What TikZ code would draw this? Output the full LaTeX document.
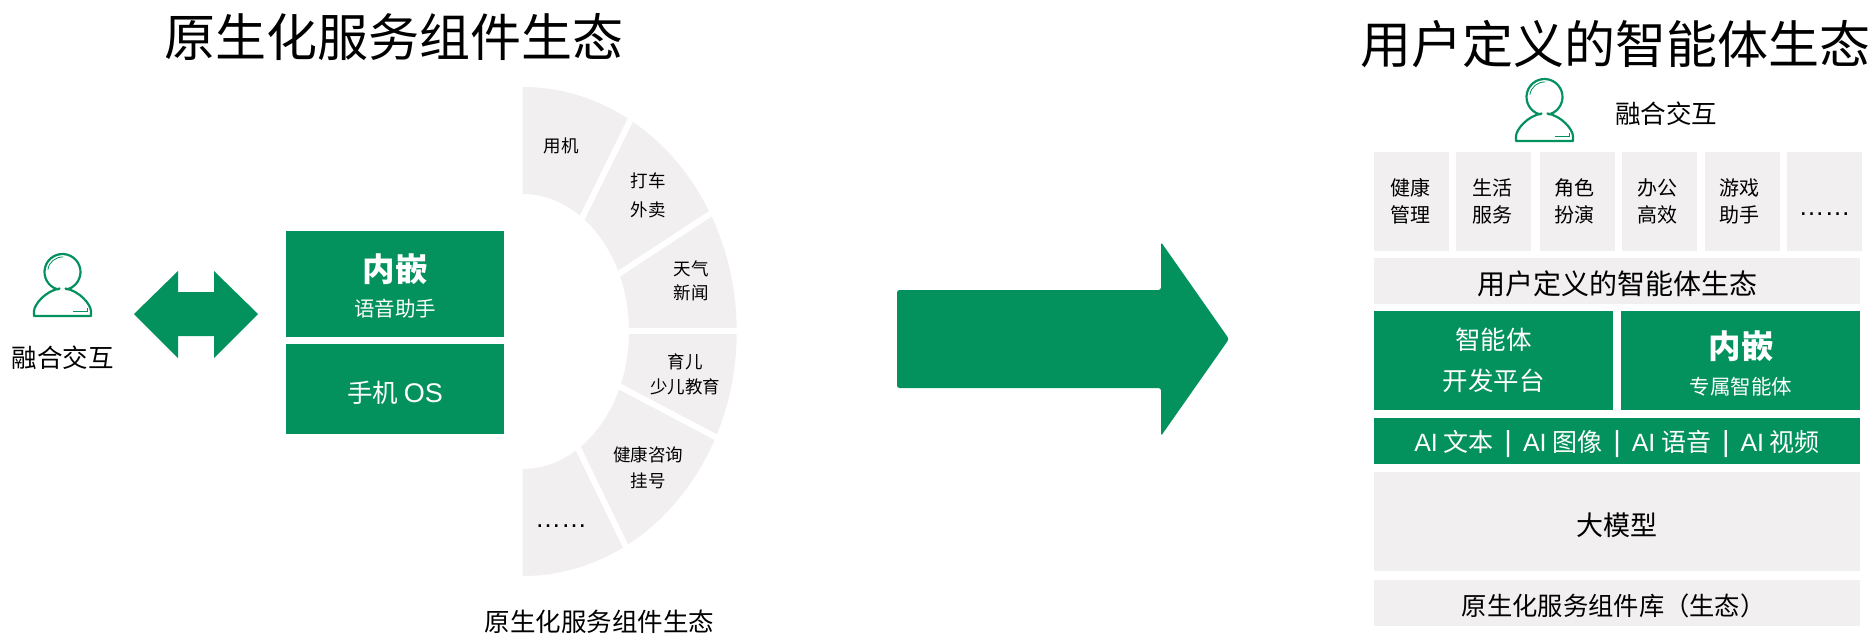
\documentclass[tikz,border=0pt]{standalone}
\usepackage{fontspec}
\setmainfont{Noto Sans CJK SC}
\newfontfamily\latinfont{Liberation Sans}
\usetikzlibrary{positioning}
\definecolor{leaf}{RGB}{3,145,94}
\definecolor{pale}{RGB}{241,239,240}
\newcommand{\fsize}[2]{\fontsize{#1}{#2}\selectfont}
\newcommand{\sixdots}[1]{\smash{\raisebox{#1}{\latinfont\fsize{26}{26}……}}}
\newcommand{\ainame}[1]{{\latinfont AI} #1}
\newcommand{\aibar}{\hspace{11pt}{\latinfont\fsize{29}{29}|}\hspace{11pt}}
\newcommand{\celllines}[3]{\hspace*{-#1}#2\\\hspace*{-#1}#3}
\tikzset{
  lowered/.style={execute at begin node={\rule{0pt}{#1}}},
  greenbox/.style={rectangle,fill=leaf,text=white,inner sep=0pt,align=center,font=\fsize{25.5}{41}},
  palebox/.style={rectangle,fill=pale,inner sep=0pt,align=center,font=\fsize{25}{30}},
  cellbox/.style={palebox,minimum width=75pt,minimum height=99pt,font=\fsize{20}{27}},
  textcell/.style={cellbox,lowered=28pt},
  wideband/.style={minimum width=486pt,minimum height=46pt},
  fanlabel/.style={inner sep=0pt,align=center,font=\fsize{17.5}{#1}},
  fanlabel/.default=26,
  headline/.style={inner sep=0pt,font=\fsize{51}{51}},
  caption/.style={inner sep=0pt,font=\fsize{25.5}{25.5}},
  boldlabel/.style={inner sep=0pt,text=white,font=\fsize{32.5}{32.5}\bfseries},
  sublabel/.style={inner sep=0pt,text=white,font=\fsize{20.5}{20.5}},
  gapline/.style={white,line width=6pt,shorten >=-5pt,shorten <=-5pt},
  personicon/.pic={
    \draw[leaf,line width=2.2pt,line join=round]
      (-4.66,26.6) arc[start angle=-105,end angle=-435,radius=18]
      -- (3,27.5) .. controls (17,25) and (28,12) .. (28.5,5)
      -- (28.5,0) -- (-28.5,0) -- (-28.5,5)
      .. controls (-28,12) and (-17,25) .. (-3,27.5) -- cycle;
    \draw[leaf,line width=0.8pt] (0.8,59) arc[start angle=87,end angle=172,radius=14.8];
    \draw[leaf,line width=0.8pt] (10.8,4.3) -- (24.8,4.3) -- (24.8,8.3);
  }
}
\begin{document}
\begin{tikzpicture}[x=1pt,y=1pt]
  \useasboundingbox (0,0) rectangle (1874,-635);

  % left side
  \node[headline] (lefttitle) at (394,-37) {原生化服务组件生态};
  \pic at (62.5,-316) {personicon};
  \node[caption] (leftuser) at (63,-358) {融合交互};
  \fill[leaf] (134,-314) -- (178,-271) -- (178,-292) -- (214,-292) -- (214,-271)
    -- (258,-314) -- (214,-358) -- (214,-336) -- (178,-336) -- (178,-358) -- cycle;

  \node[greenbox,minimum width=218pt,minimum height=106pt] (embed) at (395,-284) {};
  \node[greenbox,minimum width=218pt,minimum height=90pt,below=7pt of embed,lowered=27.5pt] (phone)
    {手机 {\latinfont\fsize{27}{27}OS}};
  \node[boldlabel] (embedname) at (395,-269) {内嵌};
  \node[sublabel] (embedsub) at (395,-309) {语音助手};

  % fan of services
  \fill[pale] (522.7,-87) arc[start angle=90,end angle=-90,x radius=214,y radius=244.5]
    -- (522.7,-469) arc[start angle=-90,end angle=90,x radius=106.3,y radius=137.5] -- cycle;
  \coordinate (g1a) at (582.7,-216.7);
  \coordinate (g1b) at (630,-120.7);
  \coordinate (g2a) at (620,-273);
  \coordinate (g2b) at (710,-214);
  \coordinate (g3a) at (629,-331);
  \coordinate (g3b) at (737,-331);
  \coordinate (g4a) at (620.7,-387);
  \coordinate (g4b) at (715,-436.7);
  \coordinate (g5a) at (578,-448);
  \coordinate (g5b) at (625,-545);
  \draw[gapline] (g1a) -- (g1b);
  \draw[gapline] (g2a) -- (g2b);
  \draw[gapline] (g3a) -- (g3b);
  \draw[gapline] (g4a) -- (g4b);
  \draw[gapline] (g5a) -- (g5b);

  \node[fanlabel] (usephone) at (561,-146) {用机};
  \node[fanlabel=29] (taxi) at (648,-195.5) {打车\\外卖};
  \node[fanlabel=24] (news) at (691,-281) {天气\\新闻};
  \node[fanlabel=25] (child) at (685,-374.5) {育儿\\少儿教育};
  \node[fanlabel=26] (health) at (648,-468) {健康咨询\\挂号};
  \node[inner sep=0pt] (moreleft) at (561,-525) {\sixdots{-2.5pt}};
  \node[caption] (fancaption) at (599.5,-622) {原生化服务组件生态};

  % big arrow
  \fill[leaf,rounded corners=2.5pt] (897,-290) -- (1161,-290) -- (1161,-242) -- (1229,-339)
    -- (1161,-436) -- (1161,-388) -- (897,-388) -- cycle;

  % right side
  \node[headline] (righttitle) at (1615.5,-44) {用户定义的智能体生态};
  \pic at (1544.5,-141) {personicon};
  \node[caption] (rightuser) at (1666,-114) {融合交互};

  \node[textcell] (c1) at (1411.5,-201.5) {\celllines{2pt}{健康}{管理}};
  \node[textcell,right=7pt of c1] (c2) {\celllines{2pt}{生活}{服务}};
  \node[textcell,right=8pt of c2] (c3) {\celllines{5pt}{角色}{扮演}};
  \node[textcell,right=7pt of c3] (c4) {\celllines{4pt}{办公}{高效}};
  \node[textcell,right=7pt of c4] (c5) {\celllines{5pt}{游戏}{助手}};
  \node[cellbox,right=7pt of c5] (c6) {\sixdots{-13.5pt}};

  \node[palebox,wideband,font=\fsize{28}{28},lowered=29.4pt] (agents) at (1617,-281) {用户定义的智能体生态};
  \node[greenbox,minimum width=239pt,minimum height=99pt,lowered=27pt] (devkit) at (1493.5,-360.5) {智能体\\开发平台};
  \node[greenbox,minimum width=239pt,minimum height=99pt] (exclusive) at (1740.5,-360.5) {};
  \node[boldlabel] (exclusivename) at (1741,-346.5) {内嵌};
  \node[sublabel] (exclusivesub) at (1741,-387) {专属智能体};
  \node[greenbox,wideband,font=\fsize{25}{25},lowered=28pt] (aitools) at (1617,-441)
    {\ainame{文本}\aibar\ainame{图像}\aibar\ainame{语音}\aibar\ainame{视频}};
  \node[palebox,minimum width=486pt,minimum height=99pt,font=\fsize{27}{27},lowered=30pt] (model) at (1617,-521.5) {大模型};
  \node[palebox,wideband,font=\fsize{25.3}{30},lowered=26.8pt] (library) at (1617,-603)
    {\hspace*{-6.5pt}原生化服务组件库（生态）};
\end{tikzpicture}
\end{document}
